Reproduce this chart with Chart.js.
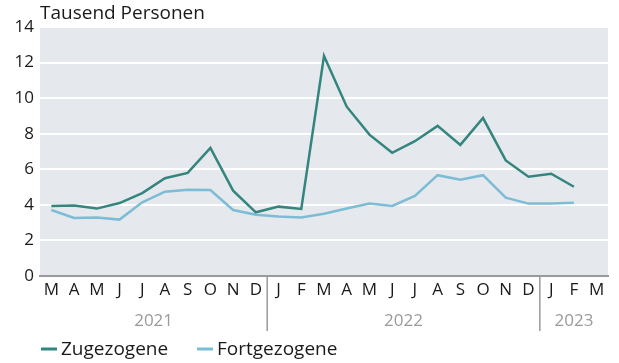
<!DOCTYPE html>
<html>
<head>
<meta charset="utf-8">
<script src="https://cdn.jsdelivr.net/npm/chart.js@4.4.1/dist/chart.umd.min.js"></script>
<style>
  html, body { margin: 0; padding: 0; background: #ffffff; }
  #wrap { width: 619px; height: 363px; }
</style>
</head>
<body>
<div id="wrap"><canvas id="chart" width="619" height="363"></canvas></div>
<script>
// Monthly categories, March 2021 to March 2023
const months = ['M','A','M','J','J','A','S','O','N','D',
                'J','F','M','A','M','J','J','A','S','O','N','D',
                'J','F','M'];

// Year groups below the month labels (index ranges into months)
const yearLabels = ['2021', '2022', '2023'];
const yearStart  = [0, 10, 22];
const yearEnd    = [9, 21, 24];

// Values in thousand persons
const zugezogene = [3.94, 3.96, 3.79, 4.10, 4.66, 5.50, 5.80, 7.20, 4.80, 3.58,
                    3.90, 3.77, 12.37, 9.52, 7.95, 6.93, 7.58, 8.44, 7.37, 8.88, 6.50, 5.58,
                    5.75, 5.02, null];
const fortgezogene = [3.71, 3.26, 3.29, 3.17, 4.14, 4.74, 4.85, 4.83, 3.71, 3.45,
                      3.34, 3.29, 3.50, 3.79, 4.08, 3.94, 4.50, 5.67, 5.41, 5.67, 4.40, 4.07,
                      4.07, 4.12, null];

const seriesNames = ['Zugezogene', 'Fortgezogene'];
const seriesColors = ['#35857f', '#7dbcd5'];

const yMin = 0, yMax = 14, yStep = 2;
const unitLabel = 'Tausend Personen';

const FONT = "'Open Sans', 'Noto Sans', sans-serif";

const decor = {
  id: 'decor',
  beforeDraw(chart) {
    const { ctx, chartArea: a } = chart;
    ctx.save();
    ctx.fillStyle = '#e5e9ed';
    ctx.fillRect(a.left, a.top, a.right - a.left, a.bottom - a.top);
    ctx.restore();
  },
  afterDraw(chart) {
    const { ctx, chartArea: a } = chart;
    const x = chart.scales.x;
    ctx.save();

    // unit label above the plot
    ctx.fillStyle = '#1a1a1a';
    ctx.font = '19px ' + FONT;
    ctx.textAlign = 'left';
    ctx.textBaseline = 'middle';
    ctx.fillText(unitLabel, a.left, 14);

    // year separators and year labels
    ctx.strokeStyle = '#9a9a9a';
    ctx.lineWidth = 1.5;
    for (let i = 1; i < yearStart.length; i++) {
      const px = (x.getPixelForValue(yearStart[i] - 1) + x.getPixelForValue(yearStart[i])) / 2;
      ctx.beginPath();
      ctx.moveTo(px, a.bottom);
      ctx.lineTo(px, 331);
      ctx.stroke();
    }
    ctx.fillStyle = '#9a9a9a';
    ctx.font = '17px ' + FONT;
    ctx.textAlign = 'center';
    for (let i = 0; i < yearLabels.length; i++) {
      const cx = (x.getPixelForValue(yearStart[i]) + x.getPixelForValue(yearEnd[i])) / 2;
      ctx.fillText(yearLabels[i], cx, 321);
    }

    // legend
    const legendX = [41, 197];
    ctx.font = '19px ' + FONT;
    ctx.textAlign = 'left';
    for (let i = 0; i < seriesNames.length; i++) {
      ctx.strokeStyle = seriesColors[i];
      ctx.lineWidth = 3;
      ctx.beginPath();
      ctx.moveTo(legendX[i], 349);
      ctx.lineTo(legendX[i] + 16, 349);
      ctx.stroke();
      ctx.fillStyle = '#1a1a1a';
      ctx.fillText(seriesNames[i], legendX[i] + 20, 350);
    }
    ctx.restore();
  }
};

new Chart(document.getElementById('chart'), {
  type: 'line',
  data: {
    labels: months,
    datasets: [
      { label: seriesNames[0], data: zugezogene, borderColor: seriesColors[0], backgroundColor: seriesColors[0],
        borderWidth: 2.5, pointRadius: 0, tension: 0, order: 0 },
      { label: seriesNames[1], data: fortgezogene, borderColor: seriesColors[1], backgroundColor: seriesColors[1],
        borderWidth: 2.5, pointRadius: 0, tension: 0, order: 1 }
    ]
  },
  options: {
    responsive: false,
    animation: false,
    devicePixelRatio: 1,
    layout: { padding: { top: 27, right: 11, left: 0, bottom: 0 } },
    plugins: { legend: { display: false }, tooltip: { enabled: false }, title: { display: false } },
    scales: {
      x: {
        offset: true,
        grid: { display: true, color: 'rgba(0,0,0,0)', drawTicks: false },
        border: { display: true, color: '#9a9a9a', width: 2, z: 1 },
        ticks: { color: '#1a1a1a', font: { family: FONT, size: 17 }, padding: 4, maxRotation: 0, autoSkip: false },
        afterFit(scale) { scale.height = 87; }
      },
      y: {
        min: yMin, max: yMax,
        grid: { color: (c) => (c.tick && c.tick.value === 0 ? 'rgba(0,0,0,0)' : '#ffffff'), lineWidth: 2, drawTicks: false },
        border: { display: false },
        ticks: { stepSize: yStep, color: '#1a1a1a', font: { family: FONT, size: 17 }, padding: 6 },
        afterFit(scale) { scale.width = 40; }
      }
    }
  },
  plugins: [decor]
});
</script>
</body>
</html>
